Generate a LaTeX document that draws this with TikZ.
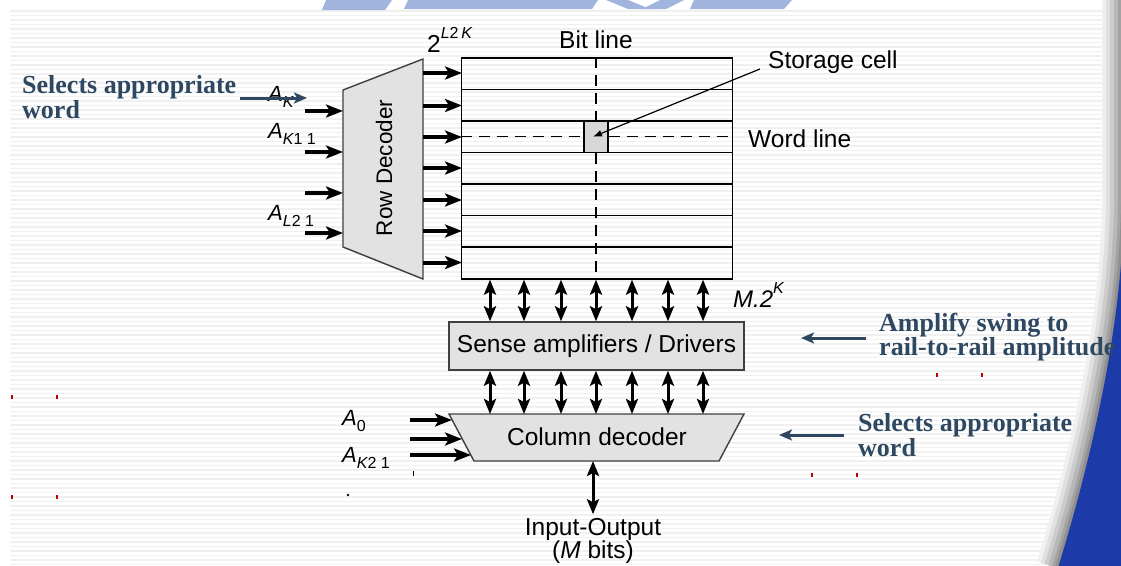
\documentclass[tikz,border=0pt]{standalone}
\usepackage{fontspec}
\setmainfont{Liberation Serif}
\newfontfamily\arialf{Liberation Sans}
\usetikzlibrary{arrows.meta}

\definecolor{slate}{RGB}{47,72,98}
\definecolor{swoosh}{RGB}{28,58,168}
\definecolor{logoblue}{RGB}{160,180,222}
\definecolor{boxfill}{RGB}{226,226,226}
\definecolor{cellfill}{RGB}{215,215,215}

% small raised / lowered index text for the address labels
\newcommand{\lsub}[1]{\raisebox{-0.30em}{\fontsize{16}{16}\selectfont #1}}
\newcommand{\lsup}[1]{\raisebox{0.55em}{\fontsize{16}{16}\selectfont #1}}

\tikzset{
  lab/.style={font=\arialf\fontsize{24.5}{28}\selectfont, inner sep=0pt},
  addr/.style={font=\arialf\itshape\fontsize{22}{24}\selectfont, inner sep=0pt, anchor=base west},
  thickarrow/.style={line width=4pt, -{Stealth[length=17pt,width=13pt,inset=4pt]}},
  dblarrow/.style={line width=3pt, {Stealth[length=15pt,width=12pt,inset=3pt]}-{Stealth[length=15pt,width=12pt,inset=3pt]}},
  thinarrow/.style={line width=1.2pt, -{Latex[length=9pt,width=7pt]}},
  gridline/.style={line width=1.3pt},
  wordbit/.style={line width=1.3pt, dash pattern=on 11pt off 7pt},
  block/.style={draw=black!75, fill=boxfill, line width=1.4pt},
  note/.style={font=\bfseries\fontsize{26}{24.5}\selectfont, text=slate, align=left, inner sep=0pt, anchor=north west},
  notearrow/.style={draw=slate, line width=3pt, -{Stealth[length=13pt,width=11pt,inset=3pt]}},
  stripe/.style={draw=black!6, line width=1.3pt},
  speck/.style={fill=red!75!black}
}

\begin{document}
\begin{tikzpicture}[x=1pt,y=-1pt]
\useasboundingbox (0,0) rectangle (1121,565);
\fill[white] (0,0) rectangle (1121,565);

% ---- slide background: ruled stripes ----
\foreach \y in {11,15.5,...,565} \draw[stripe] (10,\y) -- (1121,\y);

% ---- slide header graphic ----
\fill[logoblue] (326,0) -- (392,0) -- (385,10) -- (322,10) -- cycle;
\fill[logoblue] (408,0) -- (598,0) -- (592,9) -- (404,9) -- cycle;
\fill[logoblue] (606,0) -- (628,0) -- (650,9) -- (628,9) -- cycle;
\fill[logoblue] (660,0) -- (684,0) -- (666,9) -- (642,9) -- cycle;
\fill[logoblue] (694,0) -- (792,0) -- (784,9) -- (690,9) -- cycle;

% ---- slide border shadow and blue swoosh ----
\foreach \w/\c in {44/6,36/12,28/20,20/28,12/36,6/44}
  \draw[line width=\w pt, draw=black!\c] (1124,0) -- (1124,200) .. controls (1123,330) and (1088,470) .. (1058,568);
\fill[swoosh] (1124,200) .. controls (1123,330) and (1088,470) .. (1058,568) -- (1130,568) -- (1130,200) -- cycle;

% ---- small printing specks ----
\foreach \x/\y in {12/397,57/397,12/497,57/497,937/375,982/375,812/475,857/475}
  \fill[speck] (\x-1,\y-2) rectangle (\x+1,\y+2);
\fill[black] (412.5,471) rectangle (414,476);
\fill[black] (348,495) circle (1.4pt);

% ---- memory array ----
\node[draw=black, line width=1.3pt, minimum width=271pt, minimum height=221pt, inner sep=0pt] (array) at (597,168.5) {};
\foreach \y in {89.5,121,152.5,184,215.5,247}
  \draw[gridline] (462,\y) -- (733,\y);
\node[draw=black, fill=cellfill, line width=1.3pt, minimum width=24pt, minimum height=31.5pt, inner sep=0pt] (cell) at (596,136.75) {};
\draw[wordbit] (array.north -| cell) -- (cell.north);
\draw[wordbit] (cell.south) -- (array.south -| cell);
\draw[wordbit] (array.west |- cell) -- (cell.west);
\draw[wordbit] (cell.east) -- (array.east |- cell);

\node[lab] (bitlabel) at (596,40) {Bit line};
\node[lab, anchor=west] (wordlabel) at (748,139) {Word line};
\node[lab, anchor=west] (celllabel) at (768,62) {Storage cell};
\draw[thinarrow] ([xshift=-8pt,yshift=-7pt]celllabel.west) -- ([xshift=-3pt]cell.center);
\node[lab, anchor=base west] (rowcount) at (427,52) {2\lsup{\itshape L\upshape 2\,\itshape K}};

% ---- row decoder ----
\path[block] (343,90) coordinate (rdtl) -- (423,59) coordinate (rdtr)
  -- (423,279) coordinate (rdbr) -- (343,247) coordinate (rdbl) -- cycle;
\node[lab, rotate=90, font=\arialf\fontsize{22.5}{26}\selectfont] (rdtext) at (384,168) {Row Decoder};

\foreach \y [count=\i] in {111,152,193,233} {
  \coordinate (rsrc\i) at (305,\y);
  \coordinate (rin\i) at (343,\y);
  \draw[thickarrow] (rsrc\i) -- (rin\i);
}
\foreach \y [count=\i] in {73,105.5,137,168,200,231,262.5} {
  \coordinate (rout\i) at (423,\y);
  \coordinate (row\i) at (462,\y);
  \draw[thickarrow] (rout\i) -- (row\i);
}

\node[addr] (ak) at (268,101) {A\lsub{K}};
\node[addr] (ak1) at (268,138) {A\lsub{K\upshape 1 1}};
\node[addr] (al1) at (268,220) {A\lsub{L\upshape 2 1}};

% ---- sense amplifiers ----
\node[block, lab, minimum width=295pt, minimum height=48pt] (sense) at (596.5,346) {Sense amplifiers / Drivers};
\node[addr, font=\arialf\itshape\fontsize{24}{26}\selectfont] (mtimes) at (733,307) {M.2\lsup{K}};

% ---- column decoder ----
\path[block] (449,414) coordinate (cdtl) -- (744,414) coordinate (cdtr)
  -- (719,461) coordinate (cdbr) -- (474,461) coordinate (cdbl) -- cycle;
\node[lab] (cdtext) at (597,437) {Column decoder};
\coordinate (cdtop) at (596,414);

\foreach \x [count=\i] in {490,524,561,596,632,668,703} {
  \coordinate (col\i) at (\x,0);
  \draw[dblarrow] (array.south -| col\i) -- (sense.north -| col\i);
  \draw[dblarrow] (sense.south -| col\i) -- (cdtop -| col\i);
}

\foreach \y/\e [count=\i] in {420/452,439/462,455/471} {
  \coordinate (csrc\i) at (410,\y);
  \coordinate (cin\i) at (\e,\y);
  \draw[thickarrow] (csrc\i) -- (cin\i);
}
\node[addr] (a0) at (342,425) {A\lsub{\upshape 0}};
\node[addr] (ak2) at (342,462) {A\lsub{K\upshape 2 1}};

\coordinate (cdbot) at (593,461);
\node[lab] (iolabel) at (593,529.5) {Input-Output};
\node[lab] (iobits) at (593,552) {(\textit{M} bits)};
\draw[dblarrow] (cdbot) -- ([yshift=4pt]iolabel.north);

% ---- annotations ----
\node[note] (noterow) at (22,75.5) {Selects appropriate\\word};
\coordinate (noterowtip) at (307,98);
\draw[notearrow] (240,98) -- (noterowtip);

\node[note] (notesense) at (879,312.5) {Amplify swing to\\rail-to-rail amplitude};
\coordinate (notesensetip) at (801,338);
\draw[notearrow] (866,338) -- (notesensetip);

\node[note] (notecol) at (858,413.5) {Selects appropriate\\word};
\coordinate (notecoltip) at (779,435);
\draw[notearrow] (844,435) -- (notecoltip);
\end{tikzpicture}
\end{document}
